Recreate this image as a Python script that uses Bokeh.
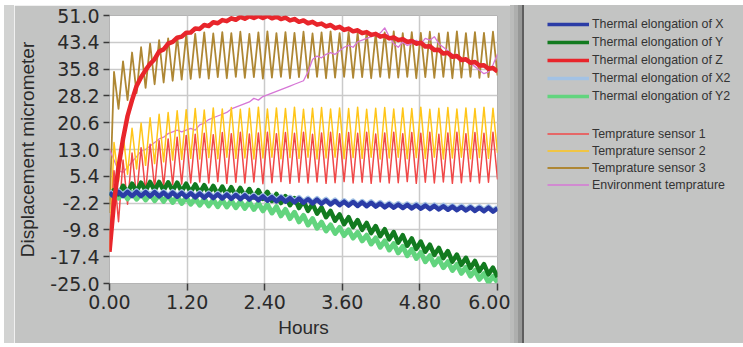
import numpy as np
from bokeh.plotting import figure
from bokeh.layouts import row, column
from bokeh.models import (Range1d, FixedTicker, NumeralTickFormatter, Legend,
                          LegendItem, Spacer)
from bokeh.embed import file_html
from bokeh.resources import INLINE

# ---------------- data ----------------
x_ticks = [0.0, 1.2, 2.4, 3.6, 4.8, 6.0]
y_ticks = [-25.0, -17.4, -9.8, -2.2, 5.4, 13.0, 20.6, 28.2, 35.8, 43.4, 51.0]

elong_x = [0.8, -0.4, 1.0, -0.2, 1.0, -0.2, 1.0, -0.2, 0.9, -0.3, 0.9, -0.3, 0.8, -0.4, 0.8, -0.4,
           0.7, -0.5, 0.6, -0.6, 0.5, -0.7, 0.4, -0.8, 0.3, -0.9, 0.2, -1.0, 0.1, -1.1, 0.0, -1.2,
           -0.2, -1.4, -0.3, -1.5, -0.5, -1.7, -0.6, -1.8, -0.8, -2.0, -0.9, -2.1, -1.1, -2.3,
           -1.2, -2.4, -1.4, -2.6, -1.6, -2.8, -1.8, -2.9, -1.9, -3.0, -2.0, -3.1, -2.1, -3.2,
           -2.3, -3.4, -2.5, -3.5, -2.6, -3.6, -2.7, -3.7, -2.8, -3.8, -2.9, -3.9, -3.0, -4.0,
           -3.1, -4.1, -3.2, -4.2, -3.3, -4.3, -3.4, -4.4, -3.5, -4.5, -3.5, -4.6, -3.7]

elong_y = [0.0, 1.5, 0.3, 2.7, 0.8, 3.3, 1.1, 3.6, 1.3, 3.8, 1.4, 3.8, 1.4, 3.7, 1.3, 3.6, 1.1,
           3.3, 0.9, 3.1, 0.7, 2.9, 0.5, 2.7, 0.3, 2.5, 0.1, 2.3, -0.1, 2.1, -0.3, 1.8, -0.6,
           1.5, -1.0, 1.0, -1.6, 0.4, -2.2, -0.2, -2.8, -0.8, -3.6, -1.6, -4.4, -2.4, -5.2,
           -3.4, -6.2, -4.4, -7.2, -5.4, -8.2, -6.2, -9.0, -7.0, -9.8, -7.8, -10.7, -8.7,
           -11.6, -9.6, -12.5, -10.4, -13.4, -11.3, -14.3, -12.2, -15.2, -13.1, -16.0, -14.0,
           -16.9, -14.9, -17.8, -15.8, -18.8, -16.8, -19.7, -17.7, -20.6, -18.6, -21.5, -19.5,
           -22.4, -20.5, -23.2]

elong_z = [-16.0, -2.0, 8.0, 16.0, 22.5, 27.0, 31.0, 33.5, 35.5, 37.3, 38.6, 40.8, 41.4, 43.0,
           43.5, 44.7, 45.0, 46.1, 46.2, 47.3, 47.2, 48.3, 48.0, 49.1, 48.8, 49.7, 49.4, 50.2,
           49.8, 50.6, 50.1, 50.8, 50.3, 50.9, 50.3, 50.9, 50.2, 50.7, 50.0, 50.4, 49.6, 50.0,
           49.2, 49.6, 48.8, 49.2, 48.4, 48.7, 47.9, 48.3, 47.4, 47.8, 46.9, 47.3, 46.5, 46.8,
           46.0, 46.3, 45.5, 45.8, 45.0, 45.3, 44.5, 44.8, 44.0, 44.3, 43.5, 43.8, 43.0, 43.3,
           42.2, 42.3, 41.2, 41.3, 40.2, 40.4, 39.3, 39.5, 38.4, 38.6, 37.6, 37.8, 36.8, 36.9,
           35.9, 36.1, 35.1]

elong_x2 = [1.2, 0.0, 1.4, 0.2, 1.4, 0.2, 1.4, 0.2, 1.3, 0.1, 1.3, 0.1, 1.2, 0.0, 1.2, 0.0, 1.1,
            -0.1, 1.0, -0.2, 0.9, -0.3, 0.8, -0.4, 0.7, -0.5, 0.6, -0.6, 0.5, -0.7, 0.4, -0.8,
            0.2, -1.0, 0.1, -1.1, -0.1, -1.3, -0.2, -1.4, -0.4, -1.6, -0.5, -1.7, -0.7, -1.9,
            -0.8, -2.0, -1.0, -2.2, -1.2, -2.4, -1.4, -2.5, -1.5, -2.6, -1.6, -2.7, -1.7, -2.8,
            -1.9, -3.0, -2.1, -3.1, -2.2, -3.2, -2.3, -3.3, -2.4, -3.4, -2.5, -3.5, -2.6, -3.6,
            -2.7, -3.7, -2.8, -3.8, -2.9, -3.9, -3.0, -4.0, -3.1, -4.1, -3.1, -4.2, -3.3]

elong_y2 = [0.0, 0.8, -0.8, 0.9, -1.0, 0.8, -1.1, 0.6, -1.3, 0.4, -1.5, 0.2, -1.7, 0.0, -2.0,
            -0.3, -2.3, -0.6, -2.5, -0.8, -2.8, -1.0, -3.0, -1.2, -3.2, -1.3, -3.3, -1.5, -3.5,
            -1.7, -3.7, -1.9, -4.0, -2.2, -4.4, -2.6, -5.0, -3.2, -5.8, -4.0, -6.6, -4.8, -7.5,
            -5.7, -8.4, -6.6, -9.3, -7.6, -10.1, -8.4, -10.8, -9.1, -11.4, -9.8, -12.1, -10.5,
            -12.9, -11.3, -13.8, -12.1, -14.7, -12.9, -15.5, -13.7, -16.3, -14.5, -17.1, -15.3,
            -17.9, -16.2, -18.8, -17.1, -19.7, -18.0, -20.5, -18.8, -21.3, -19.6, -22.1, -20.4,
            -22.9, -21.3, -23.8, -22.2, -24.7, -23.0, -24.6]

sensor_1 = [-16, 7, -7.5, 10, -2.5, 12, -0.5, 13.5, 1, 14.5, 2, 15.5, 2.5, 16, 3, 16.5, 3.2, 17,
            3.5, 17.3, 3.8, 17.6, 3.5, 17.2, 3.9, 17.8, 3.4, 17.5, 3.7, 17.9, 3.5, 17.4, 3.8, 17.7,
            3.3, 17.9, 3.6, 17.5, 3.9, 17.8, 3.4, 17.6, 3.7, 17.9, 3.5, 17.3, 3.8, 17.7, 3.4, 17.9,
            3.6, 17.5, 3.9, 17.8, 3.5, 17.6, 3.7, 17.9, 3.4, 17.4, 3.8, 17.7, 3.5, 17.9, 3.6, 17.5,
            3.9, 17.8, 3.4, 17.6, 3.7, 17.9, 3.5, 17.3, 3.8, 17.7, 3.4, 17.9, 3.6, 17.5, 3.9, 17.8,
            3.5, 17.6, 3.7, 17.9, 4.5]

sensor_2 = [-16, 15, 4, 17.5, 6, 19, 7.5, 20.5, 8.5, 22, 9, 23, 9.5, 23.5, 10, 24, 10.2, 24.3,
            10.5, 24.6, 10.3, 24.2, 10.7, 24.8, 10.4, 24.5, 10.8, 24.9, 10.5, 24.4, 10.6, 24.7,
            10.3, 25.0, 10.6, 24.5, 10.8, 24.8, 10.4, 24.6, 10.7, 25.0, 10.5, 24.4, 10.8, 24.7,
            10.3, 24.9, 10.6, 24.5, 10.8, 24.8, 10.4, 24.6, 10.7, 25.0, 10.5, 24.4, 10.8, 24.7,
            10.3, 24.9, 10.6, 24.5, 10.8, 24.8, 10.4, 24.6, 10.7, 25.0, 10.5, 24.4, 10.8, 24.7,
            10.3, 24.9, 10.6, 24.5, 10.8, 24.8, 10.4, 24.6, 10.7, 25.0, 10.5, 24.7, 12]

sensor_3 = [-5, 35, 24.5, 38, 27, 40.5, 29, 42, 30.5, 43, 31.5, 44, 32, 44.5, 32.5, 45, 32.8,
            45.5, 33.0, 45.8, 33.4, 46.2, 33.1, 45.9, 33.5, 46.3, 33.2, 46.0, 33.6, 46.4, 33.3,
            45.8, 33.5, 46.2, 33.1, 46.5, 33.4, 46.0, 33.6, 46.3, 33.2, 46.1, 33.5, 46.4, 33.3,
            45.9, 33.6, 46.2, 33.2, 46.5, 33.4, 46.0, 33.6, 46.3, 33.3, 46.1, 33.5, 46.4, 33.2,
            45.9, 33.6, 46.2, 33.3, 46.5, 33.4, 46.0, 33.6, 46.3, 33.2, 46.1, 33.5, 46.4, 33.3,
            45.9, 33.6, 46.2, 33.2, 46.5, 33.4, 46.0, 33.6, 46.3, 33.3, 46.1, 33.5, 46.4, 34]

env_temp = [13, 10, 7, 6.5, 8, 9.5, 11, 12.5, 13, 14, 15, 16, 16.5, 17.5, 18, 18.5, 18, 18.5,
            19, 18.5, 20, 20.5, 21.5, 22, 22.5, 23, 23.5, 24.5, 25, 25.5, 26, 26.5, 27.5, 27, 28,
            28.5, 29, 29.5, 30, 30.5, 31, 31.5, 32, 32.5, 35, 38.5, 39.5, 39, 40, 40.5, 40, 41,
            42, 42.5, 42, 43.5, 44, 44.5, 45, 45.5, 46, 47.5, 45, 43, 42, 43.5, 42.5, 43, 44, 43,
            44.5, 44, 45, 43, 42, 41, 40, 39, 38.5, 38, 37.5, 36.5, 35.5, 34.5, 35, 37, 40]

def hours(vals):
    return np.linspace(0.0, 6.0, len(vals))

PANEL = "#c3c4c3"
FONT = "Liberation Sans"

# style per series: (label, data, color, width)
elong_series = [
    ("Thermal elongation of X", elong_x, "#2b3ca6", 4.5),
    ("Thermal elongation of Y", elong_y, "#127a1f", 4.5),
    ("Thermal elongation of Z", elong_z, "#e8252b", 4.5),
    ("Thermal elongation of X2", elong_x2, "#a3c2e4", 4.5),
    ("Thermal elongation of Y2", elong_y2, "#62d47e", 5),
]
sensor_series = [
    ("Temprature sensor 1", sensor_1, "#f04848", 1.5),
    ("Temprature sensor 2", sensor_2, "#ffc61a", 1.5),
    ("Temprature sensor 3", sensor_3, "#ae8734", 1.8),
    ("Environment temprature", env_temp, "#d677d6", 1.3),
]

# ---------------- main chart ----------------
p = figure(width=496, height=338, x_range=Range1d(0, 6), y_range=Range1d(-25, 51),
           output_backend="svg", toolbar_location=None,
           min_border_left=91, min_border_right=13, min_border_top=10, min_border_bottom=60,
           background_fill_color="white", border_fill_color=PANEL,
           outline_line_color="#b4b4b4")

style = {s[0]: s for s in elong_series + sensor_series}
draw_order = ["Temprature sensor 3", "Environment temprature", "Temprature sensor 2",
              "Temprature sensor 1", "Thermal elongation of Y2", "Thermal elongation of Y",
              "Thermal elongation of X2", "Thermal elongation of X", "Thermal elongation of Z"]
for name in draw_order:
    _, data, col, w = style[name]
    p.line(hours(data), data, line_color=col, line_width=w, line_join="round")

p.xaxis.ticker = FixedTicker(ticks=x_ticks)
p.yaxis.ticker = FixedTicker(ticks=y_ticks)
p.xaxis.formatter = NumeralTickFormatter(format="0.00")
p.yaxis.formatter = NumeralTickFormatter(format="0.0")
for ax in (p.xaxis, p.yaxis):
    ax.axis_line_color = None
    ax.major_tick_line_color = "#3a3a3a"
    ax.major_tick_line_width = 1.5
    ax.major_tick_in = 0
    ax.minor_tick_line_color = None
    ax.major_label_text_font = "DejaVu Sans"
    ax.major_label_text_font_size = "19px"
    ax.major_label_text_color = "#2a2a2a"
    ax.axis_label_text_font = FONT
    ax.axis_label_text_font_size = "19px"
    ax.axis_label_text_font_style = "normal"
    ax.axis_label_text_color = "#2a2a2a"
p.xaxis.major_tick_out = 7
p.xaxis.major_label_standoff = 4
p.xaxis.axis_label = "Hours"
p.xaxis.axis_label_standoff = 5
p.yaxis.major_tick_out = 6
p.yaxis.major_label_standoff = 4
p.yaxis.axis_label = "Displacement micrometer"
p.yaxis.axis_label_standoff = 9
p.grid.grid_line_color = "#cacaca"
p.grid.grid_line_width = 1.5

# ---------------- legend panel ----------------
# the panel's ranges lie outside the data, so only the legend is seen there
lg = figure(width=219, height=338, x_range=Range1d(100, 101), y_range=Range1d(100, 101),
            x_axis_location=None, y_axis_location=None,
            output_backend="svg", toolbar_location=None,
            min_border_left=0, min_border_right=0, min_border_top=0, min_border_bottom=0,
            background_fill_color=None, border_fill_color=None,
            outline_line_color=None, styles={"background-color": PANEL})
lg.grid.visible = False

def make_legend(series, loc, h):
    items = []
    for name, data, col, w in series:
        r = lg.line(hours(data), data, line_color=col, line_width=min(w, 3.5))
        items.append(LegendItem(label=name, renderers=[r]))
    return Legend(items=items, location=loc, orientation="vertical", padding=0, margin=0,
                  spacing=0, label_height=h, glyph_height=h, glyph_width=42,
                  label_standoff=3, background_fill_alpha=0, border_line_color=None,
                  label_text_font=FONT, label_text_font_size="12.4px",
                  label_text_color="#333333")

lg.add_layout(make_legend(elong_series, (23, 178), 18))
lg.add_layout(make_legend(sensor_series, (23, 90), 17))

# ---------------- page layout ----------------
strip = Spacer(width=10, height=338, styles={"background-color": "#d2d3d2"})
sh1 = Spacer(width=4, height=338, styles={"background-color": "#bbbcbb"})
sh2 = Spacer(width=4, height=338, styles={"background-color": "#aeafae"})
sh3 = Spacer(width=4, height=338, styles={"background-color": "#979897"})
sep = Spacer(width=2, height=338, styles={"background-color": "#5e5e5e"})

layout = column(Spacer(width=743, height=5),
                row(Spacer(width=4, height=338), strip, p, sh1, sh2, sh3, sep, lg))

open("out.html", "w").write(file_html(layout, INLINE))
